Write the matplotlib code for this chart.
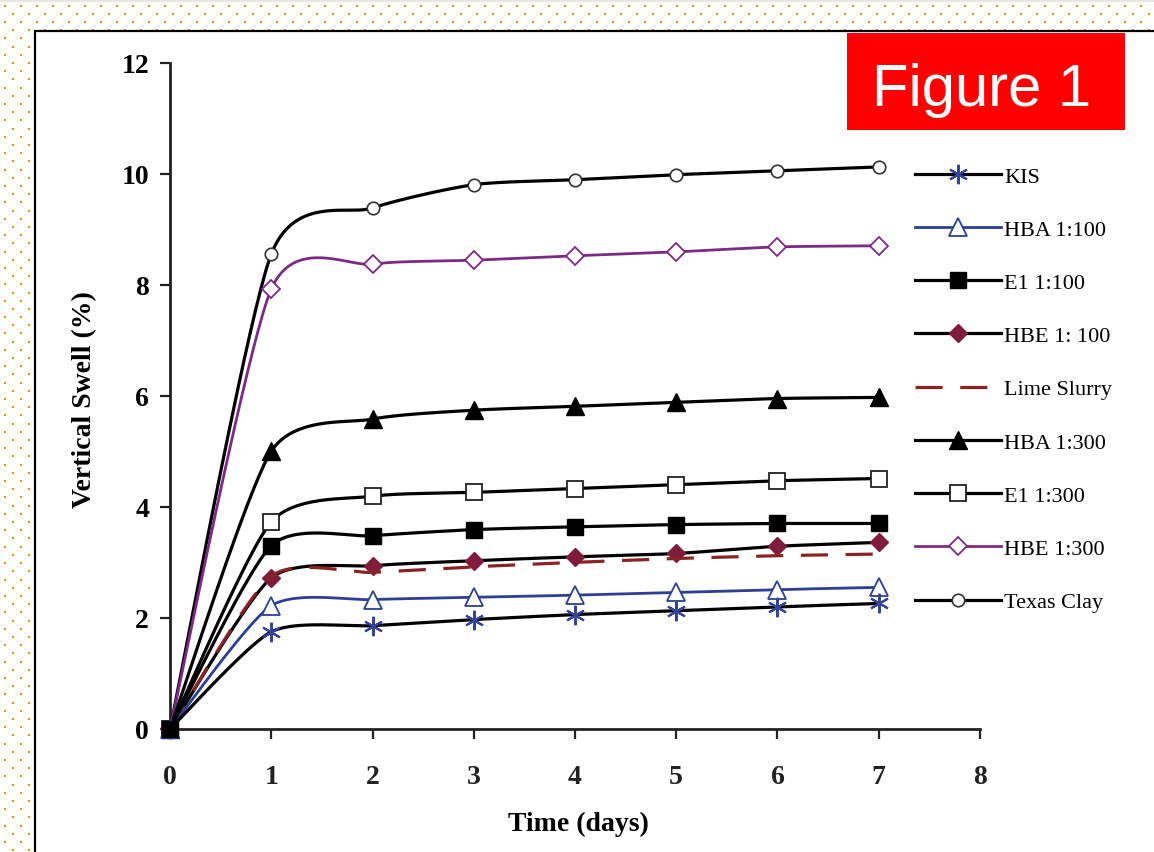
import numpy as np
import matplotlib
matplotlib.use("Agg")
import matplotlib.pyplot as plt
from matplotlib.patches import Rectangle

# ---------------- data ----------------
days = [0, 1, 2, 3, 4, 5, 6, 7]
kis = [0, 1.75, 1.86, 1.97, 2.06, 2.13, 2.20, 2.26]
hba_100 = [0, 2.22, 2.33, 2.37, 2.41, 2.46, 2.51, 2.55]
e1_100 = [0, 3.30, 3.48, 3.59, 3.64, 3.68, 3.70, 3.70]
hbe_100 = [0, 2.72, 2.94, 3.03, 3.10, 3.16, 3.29, 3.36]
lime_slurry = [0, 2.75, 2.82, 2.92, 3.00, 3.07, 3.12, 3.15]
hba_300 = [0, 5.00, 5.58, 5.74, 5.81, 5.88, 5.95, 5.97]
e1_300 = [0, 3.73, 4.19, 4.26, 4.33, 4.40, 4.47, 4.51]
hbe_300 = [0, 7.92, 8.37, 8.44, 8.52, 8.59, 8.68, 8.70]
texas_clay = [0, 8.55, 9.38, 9.80, 9.89, 9.98, 10.05, 10.12]

series_labels = ["KIS", "HBA 1:100", "E1 1:100", "HBE 1: 100", "Lime Slurry",
                 "HBA 1:300", "E1 1:300", "HBE 1:300", "Texas Clay"]
x_ticks = [0, 1, 2, 3, 4, 5, 6, 7, 8]
y_ticks = [0, 2, 4, 6, 8, 10, 12]

W, H = 1154, 853
fig = plt.figure(figsize=(W / 100, H / 100), dpi=100)

# ---------------- background: dotted border + white panel ----------------
bg = fig.add_axes([0, 0, 1, 1], zorder=0)
bg.set_xlim(0, W)
bg.set_ylim(H, 0)
bg.axis("off")
bg.add_patch(Rectangle((0, 0), W, 3, facecolor="#e6e6e6", edgecolor="none"))
dx, dy = [], []
j = 0
yy = 6.5
while yy < H:
    x0 = 5 if j % 2 == 0 else 13
    xs = np.arange(x0, W, 16)
    for xv in xs:
        dx.append(xv)
        dy.append(yy)
    j += 1
    yy += 8.2
bg.scatter(dx, dy, s=4.5, marker="s", color="#e8900c", linewidths=0)
bg.add_patch(Rectangle((35, 32), 1200, 900, facecolor="white",
                       edgecolor="black", linewidth=1.6, zorder=2))
bg.add_patch(Rectangle((847, 34), 278, 97, facecolor="#ff0000",
                       edgecolor="none", zorder=3))
bg.text(982, 106, "Figure 1", color="white", fontsize=43,
        family="Liberation Sans", ha="center", va="baseline", zorder=4)

# ---------------- main axes ----------------
x0px, x8px = 170, 980
y0px, y12px = 730, 63.5
ax = fig.add_axes([x0px / W, (H - y0px) / H, (x8px - x0px) / W,
                   (y0px - y12px) / H], zorder=1)
ax.set_facecolor("none")
ax.set_xlim(0, 8)
ax.set_ylim(0, 12)


def smooth_plot(x, y, k=0.115, n=40, **kw):
    x = np.asarray(x, float)
    y = np.asarray(y, float)
    P = np.column_stack([x, y])
    m = len(P)
    tt = np.linspace(0, 1, n, endpoint=False)
    out = []
    for i in range(m - 1):
        p0 = P[i - 1] if i > 0 else P[i]
        p1 = P[i]
        p2 = P[i + 1]
        p3 = P[i + 2] if i + 2 < m else P[i + 1]
        c1 = p1 + k * (p2 - p0)
        c2 = p2 - k * (p3 - p1)
        t = tt[:, None]
        seg = ((1 - t) ** 3) * p1 + 3 * ((1 - t) ** 2) * t * c1 + \
            3 * (1 - t) * t ** 2 * c2 + t ** 3 * p2
        out.append(seg)
    out.append(P[-1:])
    C = np.vstack(out)
    return ax.plot(C[:, 0], C[:, 1], markevery=[i * n for i in range(m)],
                   clip_on=False, **kw)


navy = "#34449a"
blue = "#2b3f95"
purple = "#7d2a85"
darkred = "#7e1c3a"
lime_col = "#8a2424"
lw = 2.3

handles = {}
handles["Texas Clay"] = smooth_plot(days, texas_clay, color="black", lw=lw,
                                    marker="o", ms=9, mfc="white", mec="#333333", mew=1.2)[0]
handles["HBE 1:300"] = smooth_plot(days, hbe_300, color=purple, lw=2.0,
                                   marker="D", ms=9, mfc="white", mec=purple, mew=1.3)[0]
handles["HBA 1:300"] = smooth_plot(days, hba_300, color="black", lw=lw,
                                   marker="^", ms=13, mfc="black", mec="black")[0]
handles["E1 1:300"] = smooth_plot(days, e1_300, color="black", lw=lw,
                                  marker="s", ms=12, mfc="white", mec="#222222", mew=1.3)[0]
handles["HBE 1: 100"] = smooth_plot(days, hbe_100, color="black", lw=lw,
                                    marker="D", ms=9, mfc=darkred, mec=darkred)[0]
handles["Lime Slurry"] = smooth_plot(days, lime_slurry, color=lime_col, lw=lw,
                                     dashes=(8.5, 5.5))[0]
handles["HBA 1:100"] = smooth_plot(days, hba_100, color=blue, lw=2.0,
                                   marker="^", ms=13, mfc="white", mec=blue, mew=1.3)[0]
handles["KIS"] = smooth_plot(days, kis, color="black", lw=lw,
                             marker=(6, 2, 0), ms=14, mec=navy, mew=1.5)[0]
handles["E1 1:100"] = smooth_plot(days, e1_100, color="black", lw=lw,
                                  marker="s", ms=12, mfc="black", mec="black")[0]

for s in ["top", "right"]:
    ax.spines[s].set_visible(False)
for s in ["left", "bottom"]:
    ax.spines[s].set_linewidth(2.0)
    ax.spines[s].set_color("#222222")
    ax.spines[s].set_zorder(0.5)

ax.set_xticks(x_ticks)
ax.set_yticks(y_ticks)
ax.tick_params(axis="both", direction="out", length=7, width=1.6, color="#222222")
ax.tick_params(axis="y", pad=8)
ax.tick_params(axis="x", pad=18)
for lab in ax.get_yticklabels():
    lab.set_family("Liberation Serif")
    lab.set_fontweight("bold")
    lab.set_fontsize(20)
for lab in ax.get_xticklabels():
    lab.set_family("Liberation Serif")
    lab.set_fontweight("bold")
    lab.set_fontsize(20)
    lab.set_color("#222222")

ax.set_xlabel("Time (days)", family="Liberation Serif", fontweight="bold",
              fontsize=20)
ax.xaxis.set_label_coords((578 - x0px) / (x8px - x0px), (y0px - 812) / (y0px - y12px))
ax.set_ylabel("Vertical Swell (%)", family="Liberation Serif", fontweight="bold",
              fontsize=20)
ax.yaxis.set_label_coords((97 - x0px) / (x8px - x0px), (y0px - 400) / (y0px - y12px))

leg = ax.legend([handles[l] for l in series_labels], series_labels,
                loc="upper left", bbox_to_anchor=(915 / W, (H - 167) / H),
                bbox_transform=fig.transFigure, frameon=False,
                prop={"family": "Liberation Serif", "size": 16},
                handlelength=3.85, handletextpad=0.15, labelspacing=1.47,
                borderpad=0, borderaxespad=0, numpoints=1)

fig.savefig("out.png", dpi=100)
